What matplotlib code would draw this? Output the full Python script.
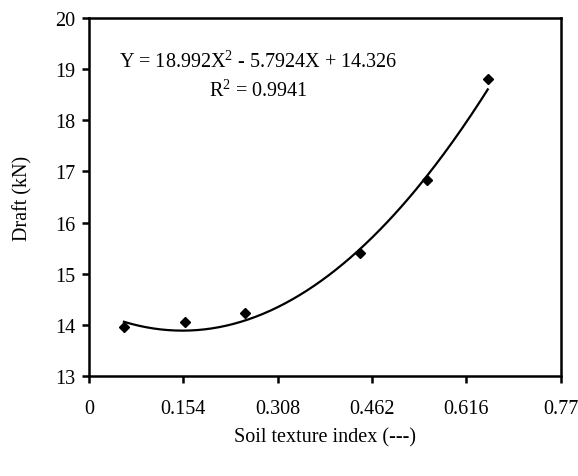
import numpy as np
import matplotlib
matplotlib.use("Agg")
import matplotlib.pyplot as plt

# Data
soil_texture_index = [0.057, 0.157, 0.255, 0.443, 0.552, 0.651]
draft_kN = [13.96, 14.06, 14.23, 15.40, 16.84, 18.80]

# Trendline coefficients as printed on the chart (a, b, c for aX^2 + bX + c)
trend_coefs = [18.992, -5.7924, 14.326]

x_ticks = [0, 0.154, 0.308, 0.462, 0.616, 0.77]
x_tick_labels = ["0", "0.154", "0.308", "0.462", "0.616", "0.77"]
y_ticks = [13, 14, 15, 16, 17, 18, 19, 20]

plt.rcParams['font.family'] = ['Liberation Serif', 'DejaVu Serif']
plt.rcParams['mathtext.fontset'] = 'custom'
plt.rcParams['mathtext.rm'] = 'Liberation Serif'
plt.rcParams['mathtext.it'] = 'Liberation Serif'
plt.rcParams['mathtext.default'] = 'rm'

fig = plt.figure(figsize=(5.78, 4.77), dpi=100)
ax = fig.add_axes([0.154, 0.210, 0.816, 0.750])

xs = np.linspace(min(soil_texture_index), max(soil_texture_index), 200)
ax.plot(xs, np.polyval(trend_coefs, xs), color='black', lw=1.6, zorder=2)
ax.plot(soil_texture_index, draft_kN, linestyle='none', marker='D',
        markersize=5.5, color='black', zorder=3)

ax.set_xlim(0, 0.77)
ax.set_ylim(13, 20)
ax.set_xticks(x_ticks)
ax.set_xticklabels(x_tick_labels)
ax.set_yticks(y_ticks)

for s in ax.spines.values():
    s.set_linewidth(1.8)
    s.set_color('black')

ax.tick_params(axis='both', direction='out', length=5, width=1.8,
               labelsize=14.5, colors='black')
ax.tick_params(axis='x', pad=12)
ax.tick_params(axis='y', pad=5)

ax.set_xlabel('Soil texture index (---)', fontsize=14.5, labelpad=6)
ax.set_ylabel('Draft (kN)', fontsize=14.5, labelpad=16)

ax.text(0.277, 19.15, 'Y = 18.992X$^{2}$ - 5.7924X + 14.326',
        fontsize=14.5, ha='center', va='center')
ax.text(0.277, 18.58, 'R$^{2}$ = 0.9941', fontsize=14.5, ha='center', va='center')

fig.savefig('out.png', dpi=100)
